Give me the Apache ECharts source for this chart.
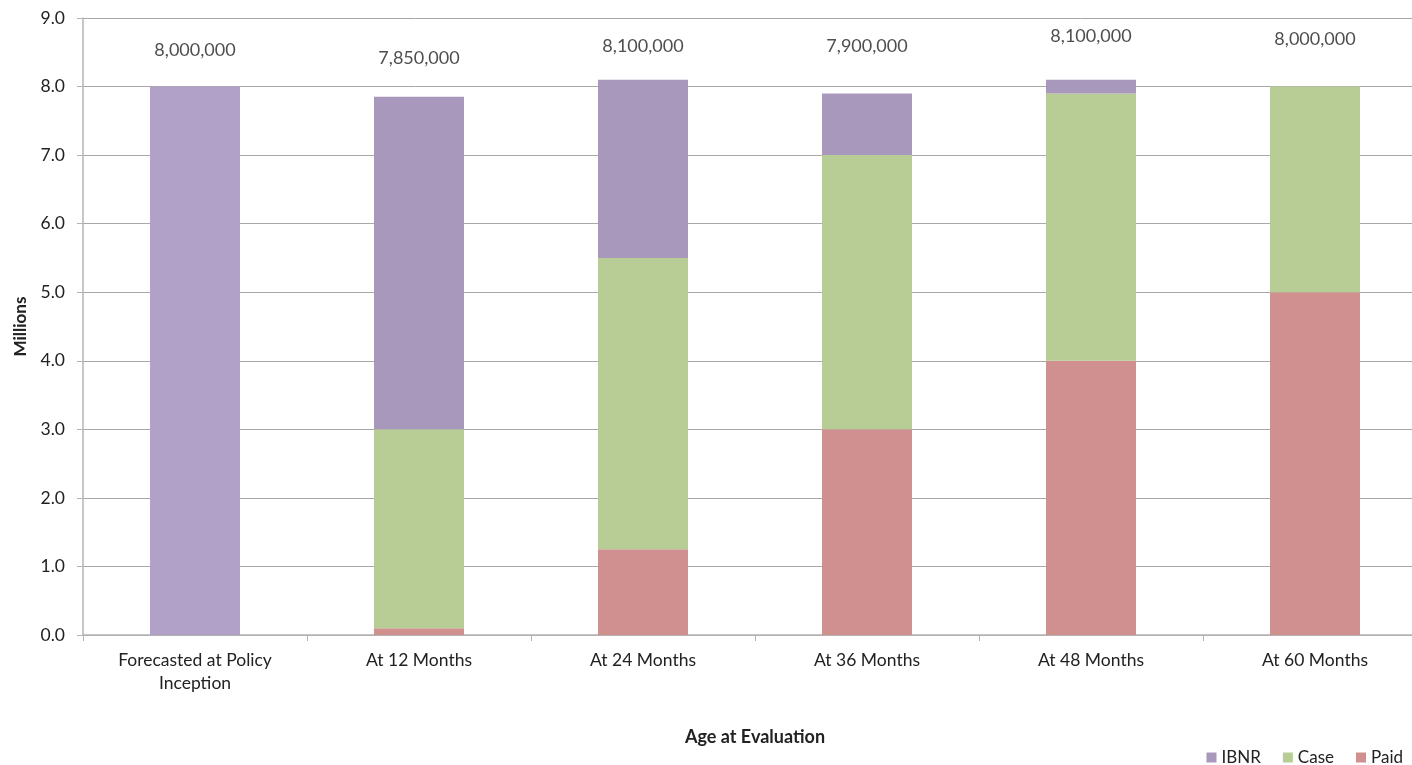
<!DOCTYPE html>
<html>
<head>
<meta charset="utf-8">
<script src="https://cdn.jsdelivr.net/npm/echarts@6/dist/echarts.min.js"></script>
<style>
html,body{margin:0;padding:0;background:#fff;}
#chart{width:1412px;height:765px;}
</style>
</head>
<body>
<div id="chart"></div>
<script>
var categories = ['Forecasted at Policy\nInception', 'At 12 Months', 'At 24 Months', 'At 36 Months', 'At 48 Months', 'At 60 Months'];
var paid = [0, 0.1, 1.25, 3.0, 4.0, 5.0];
var caseRes = [0, 2.9, 4.25, 4.0, 3.9, 3.0];
var ibnr = [8.0, 4.85, 2.6, 0.9, 0.2, 0];
var totals = [8000000, 7850000, 8100000, 7900000, 8100000, 8000000];
var yTicks = [0, 1, 2, 3, 4, 5, 6, 7, 8, 9];

// styling only: vertical offset of each total label from its bar top (px)
var labelOffsets = [-36, -39, -34, -47, -44, -47];

var FONT = 'Lato';
var TXT = '#222222';

var chart = echarts.init(document.getElementById('chart'), null, {renderer: 'canvas'});

var totalData = totals.map(function (t, i) {
  return {
    value: t / 1e6,
    label: {offset: [0, labelOffsets[i]]}
  };
});

chart.setOption({
  animation: false,
  textStyle: {fontFamily: FONT},
  grid: {left: 83, top: 18, width: 1344, bottom: 130, containLabel: false, outerBoundsMode: 'none'},
  legend: {
    data: ['IBNR', 'Case', 'Paid'],
    right: 4,
    bottom: -6,
    itemWidth: 10,
    itemHeight: 10,
    itemGap: 22,
    icon: 'rect',
    textStyle: {fontFamily: FONT, fontSize: 17, color: TXT}
  },
  xAxis: {
    type: 'category',
    data: categories,
    name: 'Age at Evaluation',
    nameLocation: 'middle',
    nameGap: 93,
    nameTextStyle: {fontFamily: FONT, fontSize: 18, fontWeight: 'bold', color: TXT},
    axisLine: {show: true, lineStyle: {color: '#b4b4b4', width: 1.5}},
    axisTick: {show: true, length: 6, lineStyle: {color: '#b4b4b4'}},
    axisLabel: {fontFamily: FONT, fontSize: 17.5, color: TXT, margin: 14, lineHeight: 23},
    splitLine: {show: false}
  },
  yAxis: {
    type: 'value',
    min: yTicks[0],
    max: yTicks[yTicks.length - 1],
    interval: 1,
    name: 'Millions',
    nameLocation: 'middle',
    nameGap: 54,
    nameRotate: 90,
    nameTextStyle: {fontFamily: FONT, fontSize: 17, fontWeight: 'bold', color: TXT},
    axisLine: {show: true, lineStyle: {color: '#b4b4b4', width: 1.5}},
    axisTick: {show: true, length: 6, lineStyle: {color: '#b4b4b4'}},
    axisLabel: {
      fontFamily: FONT, fontSize: 17.5, color: TXT, margin: 18,
      formatter: function (v) { return v.toFixed(1); }
    },
    splitLine: {show: true, lineStyle: {color: '#a8a8a8', width: 1}}
  },
  series: [
    {
      name: 'Paid', type: 'bar', stack: 'total', barWidth: 90,
      data: paid,
      itemStyle: {color: '#d09090'}
    },
    {
      name: 'Case', type: 'bar', stack: 'total', barWidth: 90,
      data: caseRes,
      itemStyle: {color: '#b8cd95'}
    },
    {
      name: 'IBNR', type: 'bar', stack: 'total', barWidth: 90,
      data: ibnr.map(function (v, i) {
        return i === 0 ? {value: v, itemStyle: {color: '#b1a0c7'}} : v;
      }),
      itemStyle: {color: '#a898bb'}
    },
    {
      name: 'Total', type: 'scatter',
      data: totalData,
      symbolSize: 1,
      itemStyle: {color: 'rgba(0,0,0,0)'},
      silent: true,
      z: 10,
      label: {
        show: true,
        position: 'inside',
        fontFamily: FONT,
        fontSize: 18,
        color: TXT,
        formatter: function (p) {
          return Math.round(p.value * 1e6).toLocaleString('en-US');
        }
      }
    }
  ]
});
</script>
</body>
</html>
